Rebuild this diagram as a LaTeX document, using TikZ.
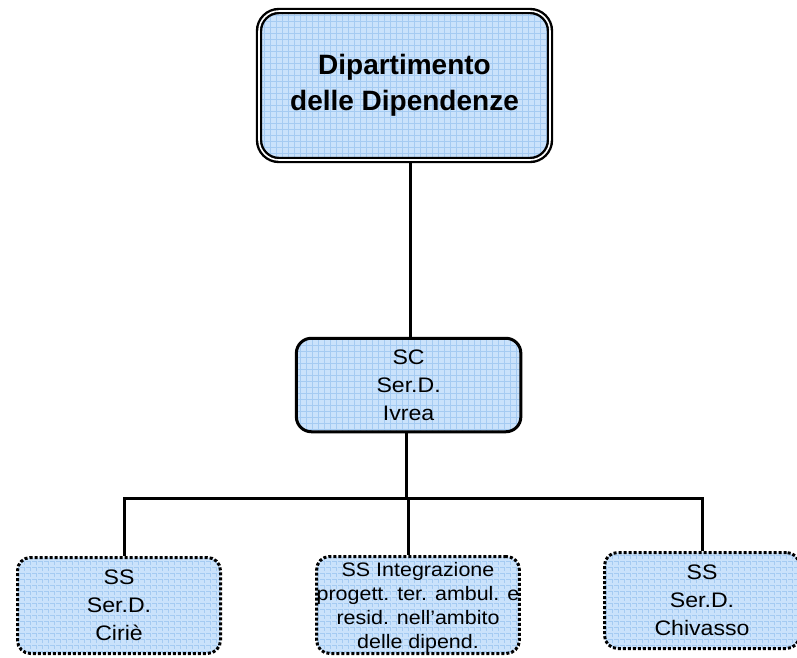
\documentclass[tikz,border=0pt]{standalone}
\usepackage{fontspec}
\setmainfont{Liberation Sans}[FakeStretch=1.1]
\newfontfamily\titlefont{Liberation Sans}
\usepackage{tikz}
\usetikzlibrary{positioning,patterns.meta}

\definecolor{boxblue}{RGB}{202,226,251}
\definecolor{gridblue}{RGB}{165,203,242}

\tikzset{
  unitbox/.style={align=center,inner sep=0pt,
    preaction={fill=boxblue},
    pattern={Hatch[angle=0,distance=6pt,line width=0.7pt]},pattern color=gridblue},
  headbox/.style={unitbox,rounded corners=20pt,draw,line width=2.4pt,double,double distance=1.6pt,
    font=\titlefont\bfseries\fontsize{28}{36}\selectfont},
  mainbox/.style={unitbox,rounded corners=15pt,draw,line width=3pt,
    font=\fontsize{21}{28}\selectfont},
  subbox/.style={unitbox,rounded corners=13pt,draw,line width=3pt,dash pattern=on 3pt off 2pt,
    font=\fontsize{21}{28}\selectfont},
  link/.style={draw,line width=3pt},
}

\begin{document}
\begin{tikzpicture}[x=1pt,y=-1pt]
  \useasboundingbox (0,0) rectangle (797,657);

  \node (node_0) at (404.5,85.5) [headbox,minimum width=291pt,minimum height=149pt] {Dipartimento\\delle Dipendenze};
  \node (node_1) at (408.6,385) [mainbox,minimum width=224.5pt,minimum height=93.5pt] {SC\\Ser.D.\\Ivrea};
  \node (node_2) at (119,605.5) [subbox,minimum width=203pt,minimum height=96pt] {SS\\Ser.D.\\Ciri\`e};
  \node (node_3) at (418,605) [subbox,minimum width=201pt,minimum height=97pt,text depth=-5pt,
    font=\fontsize{19.5}{24}\selectfont] {SS Integrazione\\progett. ter. ambul. e\\resid. nell'ambito\\delle dipend.};
  \node (node_4) at (702,600.5) [subbox,minimum width=195pt,minimum height=96pt] {SS\\Ser.D.\\Chivasso};

  \coordinate (bus_1) at (406,498);
  \coordinate (bus_2) at (124,498);
  \coordinate (bus_3) at (408,498);
  \coordinate (bus_4) at (702,498);

  \draw [link] (node_0.south -| 410,0) -- (node_1.north -| 410,0);
  \draw [link] (node_1.south -| bus_1) -- (bus_1);
  \draw [link,line cap=rect] (bus_2) -- (bus_4);
  \draw [link] (bus_2) -- (bus_2 |- node_2.north);
  \draw [link] (bus_3) -- (bus_3 |- node_3.north);
  \draw [link] (bus_4) -- (bus_4 |- node_4.north);
%
\end{tikzpicture}
\end{document}
